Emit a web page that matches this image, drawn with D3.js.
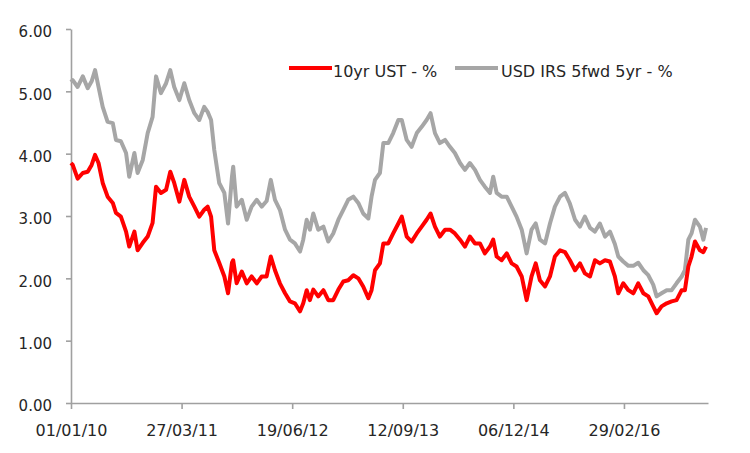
<!DOCTYPE html>
<html>
<head>
<meta charset="utf-8">
<script src="https://cdn.jsdelivr.net/npm/d3@7"></script>
<style>
  body { margin: 0; background: #fff; }
  svg text { font-family: "DejaVu Sans", sans-serif; fill: #262626; }
</style>
</head>
<body>
<svg id="chart" width="750" height="453"></svg>
<script>
// series (approx., % p.a.)
var dates = [
  "2010-01-01","2010-01-08","2010-01-28","2010-02-18","2010-03-10","2010-03-26","2010-04-09","2010-04-23","2010-05-10","2010-05-30",
  "2010-06-20","2010-07-03","2010-07-23","2010-08-13","2010-08-26","2010-09-16","2010-09-29","2010-10-20","2010-11-09","2010-11-29",
  "2010-12-13","2011-01-02","2011-01-23","2011-02-09","2011-02-25","2011-03-18","2011-04-07","2011-04-27","2011-05-18","2011-06-07",
  "2011-06-27","2011-07-11","2011-07-25","2011-08-07","2011-08-27","2011-09-17","2011-10-02","2011-10-18","2011-10-23","2011-11-06",
  "2011-11-27","2011-12-17","2012-01-06","2012-01-27","2012-02-16","2012-03-07","2012-03-24","2012-04-10","2012-04-30","2012-05-21",
  "2012-06-10","2012-06-30","2012-07-21","2012-08-03","2012-08-17","2012-08-30","2012-09-13","2012-10-03","2012-10-24","2012-11-13",
  "2012-12-03","2012-12-24","2013-01-13","2013-02-02","2013-02-23","2013-03-15","2013-04-04","2013-04-25","2013-05-08","2013-05-22",
  "2013-06-11","2013-06-25","2013-07-15","2013-08-04","2013-08-25","2013-09-08","2013-09-28","2013-10-18","2013-11-08","2013-11-28",
  "2013-12-18","2014-01-03","2014-01-21","2014-02-10","2014-03-03","2014-03-23","2014-04-12","2014-05-03","2014-05-23","2014-06-12",
  "2014-07-03","2014-07-23","2014-08-12","2014-09-02","2014-09-15","2014-09-29","2014-10-19","2014-11-09","2014-11-29","2014-12-19",
  "2015-01-09","2015-01-29","2015-02-18","2015-03-07","2015-03-24","2015-04-14","2015-05-04","2015-05-24","2015-06-14","2015-07-04",
  "2015-07-24","2015-08-14","2015-09-03","2015-09-23","2015-10-14","2015-11-03","2015-11-23","2015-12-14","2016-01-03","2016-01-23",
  "2016-02-06","2016-02-26","2016-03-18","2016-04-07","2016-04-27","2016-05-18","2016-06-07","2016-06-27","2016-07-11","2016-07-31",
  "2016-08-21","2016-09-10","2016-09-30","2016-10-21","2016-11-03","2016-11-17","2016-11-30","2016-12-14","2017-01-03","2017-01-17",
  "2017-01-28"
];

var ust = [
  3.85,3.82,3.60,3.69,3.71,3.82,3.98,3.85,3.53,3.31,
  3.21,3.05,2.99,2.75,2.51,2.75,2.45,2.57,2.67,2.89,
  3.47,3.37,3.42,3.71,3.53,3.23,3.58,3.31,3.15,2.99,
  3.10,3.15,2.99,2.45,2.25,2.03,1.76,2.25,2.29,1.92,
  2.11,1.92,2.03,1.92,2.03,2.03,2.35,2.13,1.92,1.76,
  1.63,1.60,1.47,1.60,1.81,1.65,1.82,1.71,1.81,1.65,
  1.65,1.82,1.95,1.97,2.05,2.00,1.87,1.68,1.81,2.13,
  2.24,2.56,2.56,2.72,2.88,2.99,2.67,2.59,2.72,2.83,
  2.94,3.04,2.83,2.67,2.78,2.78,2.72,2.62,2.51,2.67,
  2.56,2.56,2.40,2.51,2.62,2.35,2.29,2.40,2.24,2.19,
  2.03,1.65,2.03,2.24,1.97,1.87,2.03,2.35,2.45,2.42,
  2.29,2.13,2.24,2.08,2.03,2.29,2.24,2.29,2.27,2.03,
  1.76,1.92,1.81,1.76,1.92,1.76,1.71,1.55,1.44,1.55,
  1.60,1.63,1.65,1.81,1.81,2.19,2.35,2.59,2.45,2.42,
  2.51
];

var irs = [
  5.15,5.18,5.07,5.24,5.05,5.16,5.34,5.07,4.75,4.51,
  4.49,4.22,4.20,4.01,3.63,4.01,3.69,3.90,4.33,4.59,
  5.24,4.97,5.13,5.34,5.07,4.86,5.13,4.86,4.65,4.54,
  4.75,4.67,4.54,4.06,3.53,3.37,2.88,3.63,3.79,3.15,
  3.26,2.94,3.15,3.26,3.15,3.24,3.58,3.26,3.10,2.78,
  2.62,2.56,2.43,2.62,2.94,2.78,3.04,2.78,2.83,2.59,
  2.72,2.94,3.10,3.26,3.31,3.21,3.04,2.96,3.31,3.58,
  3.69,4.17,4.17,4.33,4.54,4.54,4.22,4.11,4.33,4.43,
  4.54,4.65,4.33,4.17,4.22,4.11,4.01,3.85,3.74,3.85,
  3.74,3.58,3.47,3.37,3.63,3.37,3.31,3.31,3.15,2.99,
  2.78,2.40,2.78,2.88,2.62,2.56,2.88,3.15,3.31,3.37,
  3.20,2.94,2.83,2.99,2.81,2.75,2.88,2.67,2.75,2.55,
  2.35,2.27,2.20,2.20,2.25,2.13,2.05,1.90,1.71,1.76,
  1.81,1.81,1.92,2.03,2.13,2.62,2.72,2.94,2.83,2.62,
  2.81
];

var seriesNames = ["10yr UST - %", "USD IRS 5fwd 5yr - %"];
var seriesColors = ["#ff0000", "#a6a6a6"];

var xTicks = ["2010-01-01","2011-03-27","2012-06-19","2013-09-12","2014-12-06","2016-02-29"];
var xEnd = "2017-02-05";
var yTicks = [0, 1, 2, 3, 4, 5, 6];

d3.select(window).on('load', init);

function init() {
    var svg = d3.select('#chart');
    var parse = d3.timeParse("%Y-%m-%d");

    var left = 71, right = 708, top = 29, bottom = 403;

    var x = d3.scaleTime()
        .domain([parse(dates[0]), parse(xEnd)])
        .range([left, right]);

    var y = d3.scaleLinear()
        .domain([0, 6])
        .range([bottom, top]);

    var line = d3.line()
        .x(function(d) { return x(d.date); })
        .y(function(d) { return y(d.value); });

    var series = [ust, irs].map(function(vals, i) {
        return {
            name: seriesNames[i],
            color: seriesColors[i],
            points: vals.map(function(v, j) { return {date: parse(dates[j]), value: v}; })
        };
    });

    // y axis
    var yAxis = svg.append("g")
        .attr("transform", "translate(" + left + ",0)")
        .call(d3.axisLeft(y)
            .tickValues(yTicks)
            .tickFormat(d3.format(".2f"))
            .tickSize(5)
            .tickSizeOuter(0)
            .tickPadding(14));

    // x axis
    var xAxis = svg.append("g")
        .attr("transform", "translate(0," + bottom + ")")
        .call(d3.axisBottom(x)
            .tickValues(xTicks.map(parse))
            .tickFormat(d3.timeFormat("%d/%m/%y"))
            .tickSize(6)
            .tickSizeOuter(0)
            .tickPadding(16));

    [yAxis, xAxis].forEach(function(g) {
        g.select(".domain").attr("stroke", "#a0a0a0").attr("stroke-width", 1.6);
        g.selectAll(".tick line").attr("stroke", "#a0a0a0").attr("stroke-width", 1.6);
        g.selectAll(".tick text")
            .style("font-family", "DejaVu Sans, sans-serif")
            .attr("fill", "#262626");
    });
    yAxis.selectAll(".tick text").style("font-size", "15px").attr("dy", "0.52em");
    xAxis.selectAll(".tick text").style("font-size", "16px");

    // lines: gray first, red on top
    svg.selectAll("path.series")
        .data(series.slice().reverse())
        .enter()
        .append("path")
        .attr("class", "series")
        .attr("d", function(d) { return line(d.points); })
        .attr("fill", "none")
        .attr("stroke", function(d) { return d.color; })
        .attr("stroke-width", 4)
        .attr("stroke-linejoin", "round");

    // legend
    var legendX = [289, 455];
    var legend = svg.selectAll("g.legend")
        .data(series)
        .enter()
        .append("g")
        .attr("class", "legend")
        .attr("transform", function(d, i) { return "translate(" + legendX[i] + ",68)"; });

    legend.append("line")
        .attr("x1", 0).attr("x2", 43)
        .attr("y1", 0).attr("y2", 0)
        .attr("stroke", function(d) { return d.color; })
        .attr("stroke-width", 4);

    legend.append("text")
        .attr("x", function(d, i) { return i === 0 ? 44 : 46; })
        .attr("y", 9)
        .style("font-size", "16px")
        .text(function(d) { return d.name; });
}
</script>
</body>
</html>
